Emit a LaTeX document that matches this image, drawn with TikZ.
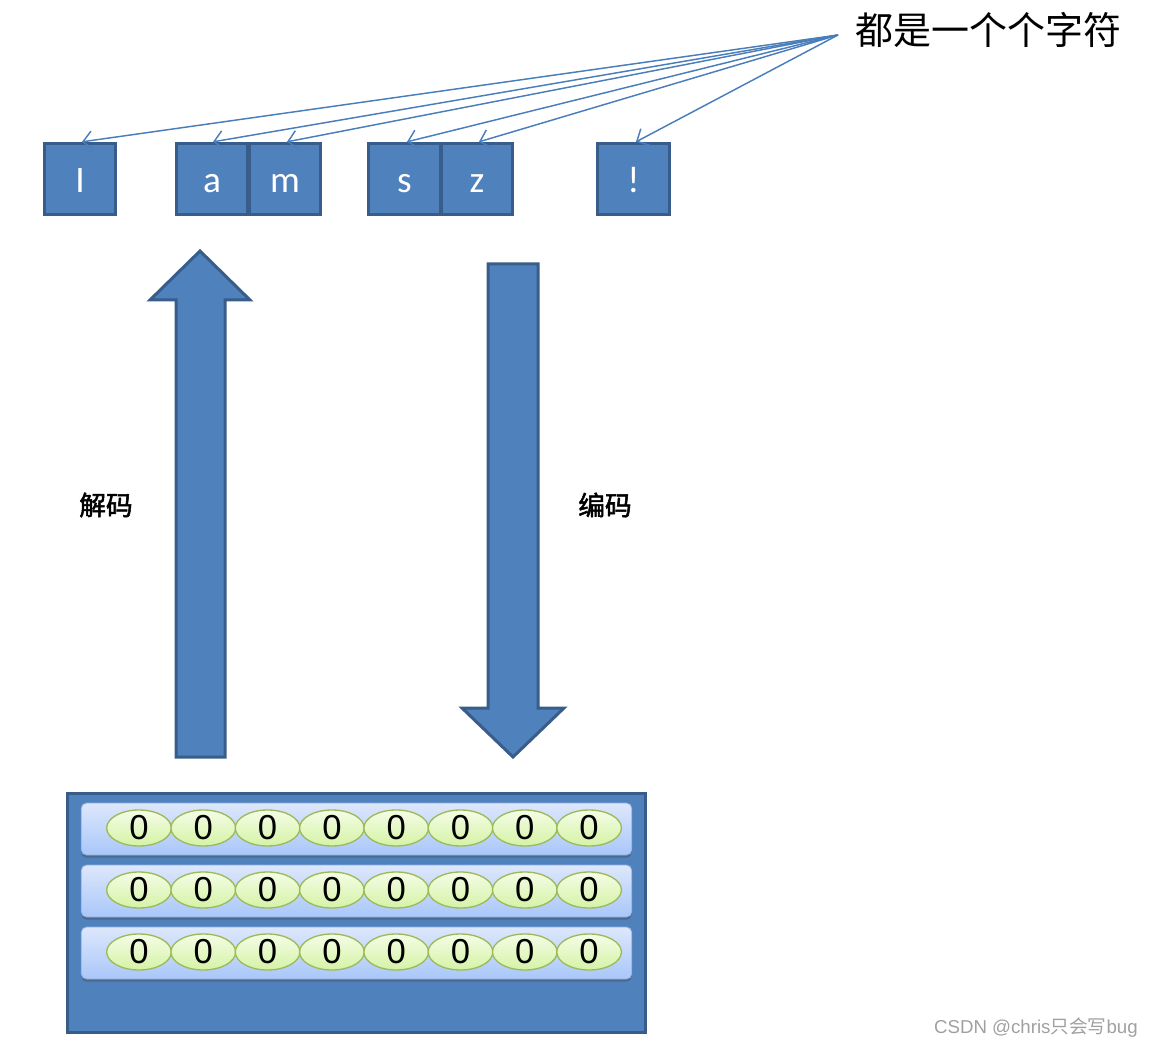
\documentclass[tikz,border=0pt]{standalone}
\usepackage{fontspec}
\usetikzlibrary{arrows.meta,shadows,shapes.geometric}
\newfontfamily\calfont{Carlito}
\newfontfamily\arifont{Liberation Sans}
\newfontfamily\cjkfont{Noto Sans CJK SC}
\newfontfamily\cjkbold[FakeBold=2]{Noto Sans CJK SC}
\definecolor{boxfill}{HTML}{4F81BD}
\definecolor{boxline}{HTML}{385D8A}
\definecolor{thinline}{HTML}{4A7EBB}
\definecolor{rowtop}{HTML}{DDE7FB}
\definecolor{rowbot}{HTML}{A9C7FA}
\definecolor{rowline}{HTML}{8EAEE0}
\definecolor{bittop}{HTML}{F4FDE6}
\definecolor{bitbot}{HTML}{D5F2A6}
\definecolor{bitline}{HTML}{9BBB59}
\definecolor{wmgray}{HTML}{A0A0A0}
\begin{document}
\begin{tikzpicture}[x=0.75pt,y=-0.75pt,
  charbox/.style={draw=boxline, fill=boxfill, line width=2.25pt,
    minimum width=53.5pt, minimum height=53.5pt, inner sep=0pt, text=white,
    font=\calfont\fontsize{28}{28}\selectfont, text height=20.5pt, text depth=0pt},
  pointer/.style={draw=thinline, line width=1.1pt,
    -{Straight Barb[length=7pt,width=14pt,line width=1.1pt]}},
  blockarrow/.style={draw=boxline, fill=boxfill, line width=2.25pt, line join=miter},
  memory/.style={draw=boxline, fill=boxfill, line width=2.25pt,
    minimum width=433pt, minimum height=179pt, inner sep=0pt},
  row/.style={draw=rowline, line width=0.6pt, top color=rowtop, bottom color=rowbot,
    rounded corners=4pt, minimum width=413pt, minimum height=39pt, inner sep=0pt,
    drop shadow={shadow xshift=0pt, shadow yshift=-2pt, opacity=0.45, fill=black!70}},
  bit/.style={ellipse, draw=bitline, line width=1pt, top color=bittop, bottom color=bitbot,
    minimum width=48.5pt, minimum height=27pt, inner sep=0pt,
    font=\arifont\fontsize{26}{26}\selectfont},
  lbl/.style={font=\cjkbold\fontsize{20}{20}\selectfont, inner sep=0pt},
]
\useasboundingbox (0,0) rectangle (1153,1048);

% character boxes
\node[charbox] (cI) at (80,179) {I};
\node[charbox] (ca) at (212,179) {a};
\node[charbox] (cm) at (285,179) {m};
\node[charbox] (cs) at (404.5,179) {s};
\node[charbox] (cz) at (477,179) {z};
\node[charbox] (cx) at (633.5,179) {!};

% title text and pointers
\node[anchor=west, inner sep=0pt, font=\cjkfont\fontsize{28.5}{28.5}\selectfont] (title) at (855,30) {都是一个个字符};
\coordinate (src) at (838,35);
\foreach \b/\dx in {cI/2, ca/1, cm/2, cs/2.5, cz/2, cx/2.5}
  \draw[pointer] (src) -- ([xshift=\dx*0.75pt]\b.north);

% block arrows
\draw[blockarrow] (176,757) -- (176,300) -- (150,300) -- (200,251) -- (250,300)
  -- (225,300) -- (225,757) -- cycle;
\draw[blockarrow] (488,264) -- (538,264) -- (538,708) -- (564,708) -- (513,757)
  -- (462,708) -- (488,708) -- cycle;

\node[lbl] (dec) at (106,505) {解码};
\node[lbl] (enc) at (605,505) {编码};

% memory block
\node[memory] (mem) at (356.5,913) {};
\foreach \r/\y in {1/829, 2/891, 3/953} {
  \node[row] (row\r) at (356.5,\y) {};
  \foreach \k in {0,...,7}
    \node[bit] (bit-\r-\k) at (139+64.3*\k,\y-1) {0};
}

% watermark
\node[anchor=east, inner sep=0pt, text=wmgray, font=\fontsize{14}{14}\selectfont] (wm) at (1138,1028)
  {\arifont CSDN @chris\cjkfont 只会写\arifont bug};
\end{tikzpicture}
\end{document}
